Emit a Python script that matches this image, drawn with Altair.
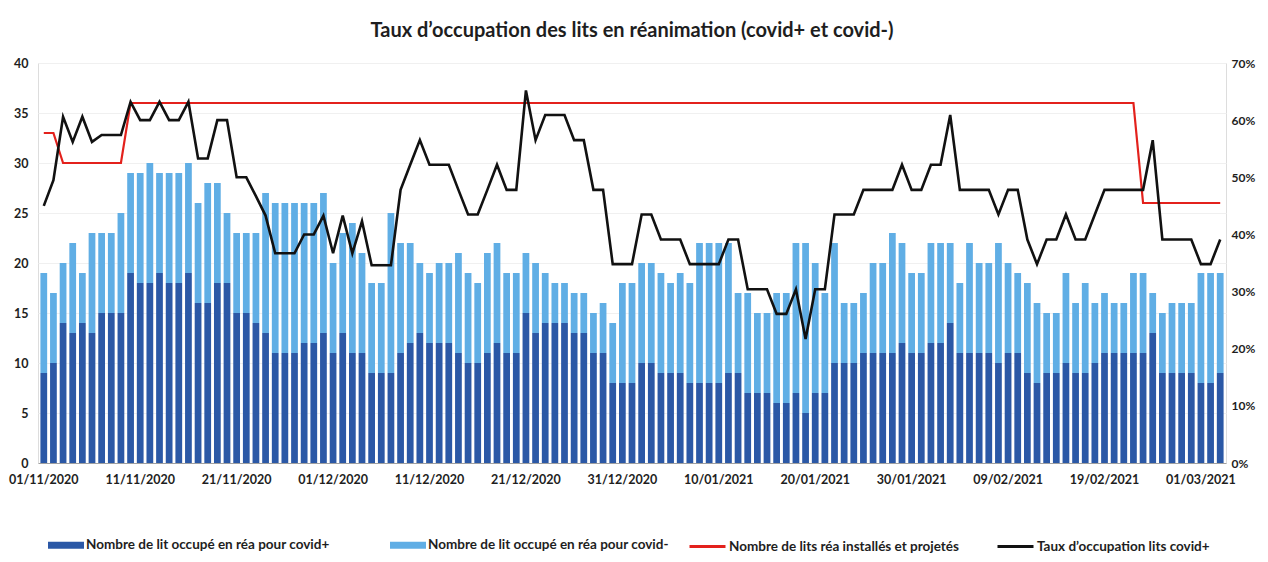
import altair as alt
import pandas as pd

# ---------------- data ----------------
start_date = "2020-11-01"
n_days = 123
dates = pd.date_range(start_date, periods=n_days, freq="D").strftime("%d/%m/%Y").tolist()

x_tick_labels = ["01/11/2020", "11/11/2020", "21/11/2020", "01/12/2020", "11/12/2020",
                 "21/12/2020", "31/12/2020", "10/01/2021", "20/01/2021", "30/01/2021",
                 "09/02/2021", "19/02/2021", "01/03/2021"]

covid_pos = [9, 10, 14, 13, 14, 13, 15, 15, 15, 19,
             18, 18, 19, 18, 18, 19, 16, 16, 18, 18,
             15, 15, 14, 13, 11, 11, 11, 12, 12, 13,
             11, 13, 11, 11, 9, 9, 9, 11, 12, 13,
             12, 12, 12, 11, 10, 10, 11, 12, 11, 11,
             15, 13, 14, 14, 14, 13, 13, 11, 11, 8,
             8, 8, 10, 10, 9, 9, 9, 8, 8, 8,
             8, 9, 9, 7, 7, 7, 6, 6, 7, 5,
             7, 7, 10, 10, 10, 11, 11, 11, 11, 12,
             11, 11, 12, 12, 14, 11, 11, 11, 11, 10,
             11, 11, 9, 8, 9, 9, 10, 9, 9, 10,
             11, 11, 11, 11, 11, 13, 9, 9, 9, 9,
             8, 8, 9]

covid_neg = [10, 7, 6, 9, 5, 10, 8, 8, 10, 10,
             11, 12, 10, 11, 11, 11, 10, 12, 10, 7,
             8, 8, 9, 14, 15, 15, 15, 14, 14, 14,
             9, 10, 13, 10, 9, 9, 16, 11, 10, 7,
             7, 8, 8, 10, 9, 8, 10, 10, 8, 8,
             6, 7, 5, 4, 4, 4, 4, 4, 5, 6,
             10, 10, 10, 10, 10, 9, 10, 10, 14, 14,
             14, 13, 8, 10, 8, 8, 11, 11, 15, 17,
             13, 10, 12, 6, 6, 6, 9, 9, 12, 10,
             8, 8, 10, 10, 8, 7, 11, 9, 9, 12,
             9, 8, 9, 8, 6, 6, 9, 7, 9, 6,
             6, 5, 5, 8, 8, 4, 6, 7, 7, 7,
             11, 11, 10]

beds = [33, 33] + [30] * 7 + [36] * 105 + [26] * 9

rate = [45.0, 49.5, 60.6, 56.2, 60.6, 56.2, 57.4, 57.4, 57.4, 63.2,
        60.0, 60.0, 63.2, 60.0, 60.0, 63.2, 53.3, 53.3, 60.0, 60.0,
        50.0, 50.0, 46.7, 43.3, 36.7, 36.7, 36.7, 40.0, 40.0, 43.3,
        36.7, 43.3, 36.7, 42.3, 34.6, 34.6, 34.6, 47.8, 52.2, 56.5,
        52.2, 52.2, 52.2, 47.8, 43.5, 43.5, 47.8, 52.2, 47.8, 47.8,
        65.2, 56.5, 60.9, 60.9, 60.9, 56.5, 56.5, 47.8, 47.8, 34.8,
        34.8, 34.8, 43.5, 43.5, 39.1, 39.1, 39.1, 34.8, 34.8, 34.8,
        34.8, 39.1, 39.1, 30.4, 30.4, 30.4, 26.1, 26.1, 30.4, 21.7,
        30.4, 30.4, 43.5, 43.5, 43.5, 47.8, 47.8, 47.8, 47.8, 52.2,
        47.8, 47.8, 52.2, 52.2, 60.9, 47.8, 47.8, 47.8, 47.8, 43.5,
        47.8, 47.8, 39.1, 34.8, 39.1, 39.1, 43.5, 39.1, 39.1, 43.5,
        47.8, 47.8, 47.8, 47.8, 47.8, 56.5, 39.1, 39.1, 39.1, 39.1,
        34.8, 34.8, 39.1]

s_pos = "Nombre de lit occupé en réa pour covid+"
s_neg = "Nombre de lit occupé en réa pour covid-"
s_beds = "Nombre de lits réa installés et projetés"
s_rate = "Taux d’occupation lits covid+"
title_text = "Taux d’occupation des lits en réanimation (covid+ et covid-)"

# ---------------- tables ----------------
bars_df = pd.concat([
    pd.DataFrame({"date": dates, "serie": s_pos, "value": covid_pos, "ord": 0}),
    pd.DataFrame({"date": dates, "serie": s_neg, "value": covid_neg, "ord": 1}),
])
beds_df = pd.DataFrame({"date": dates, "serie": s_beds, "beds": beds})
rate_df = pd.DataFrame({"date": dates, "serie": s_rate, "rate": rate})

FONT = "Lato"
TXT = "#1e1e1e"
LEG_FS = 13.5

x_enc = alt.X(
    "date:O", sort=dates, title=None,
    scale=alt.Scale(paddingInner=0.3, paddingOuter=0.25),
    axis=alt.Axis(values=x_tick_labels, labelAngle=0, ticks=False, domain=True,
                  domainColor="#a0a0a0", domainWidth=1, labelPadding=10,
                  labelFont=FONT, labelFontSize=12.5, labelFontWeight="bold",
                  labelColor=TXT, grid=False),
)

stroke_scale = alt.Scale(domain=[s_beds, s_rate], range=["#e3211c", "#111111"])
stroke_legend = alt.Legend(
    orient="none", legendX=650, legendY=464, direction="horizontal", title=None,
    symbolType="stroke", symbolSize=1296, symbolStrokeWidth=3, labelOffset=2,
    columnPadding=32, padding=0, labelFont=FONT, labelFontSize=LEG_FS,
    labelFontWeight="bold", labelColor=TXT, labelLimit=400,
)

bars = alt.Chart(bars_df).mark_bar().encode(
    x=x_enc,
    y=alt.Y("value:Q", stack="zero", title=None,
            scale=alt.Scale(domain=[0, 40], nice=False),
            axis=alt.Axis(values=list(range(0, 45, 5)), domain=False, ticks=False,
                          labelPadding=10, labelFont=FONT, labelFontSize=12.5,
                          labelFontWeight="bold", labelColor=TXT,
                          grid=True, gridColor="#f0f0f0", gridWidth=1)),
    fill=alt.Fill("serie:N",
                  scale=alt.Scale(domain=[s_pos, s_neg], range=["#2b58a6", "#60aee5"]),
                  legend=alt.Legend(
                      orient="none", legendX=18, legendY=472, direction="horizontal",
                      title=None, symbolType="M-1.8,-0.35H1.8V0.35H-1.8Z",
                      symbolSize=400, symbolStrokeWidth=0, labelOffset=10,
                      columnPadding=60, padding=0, labelFont=FONT, labelFontSize=LEG_FS,
                      labelFontWeight="bold", labelColor=TXT, labelLimit=400)),
    order=alt.Order("ord:Q"),
)

beds_line = alt.Chart(beds_df).mark_line(strokeWidth=2.2).encode(
    x=alt.X("date:O", sort=dates),
    y=alt.Y("beds:Q"),
    stroke=alt.Stroke("serie:N", scale=stroke_scale, legend=stroke_legend),
)

rate_line = alt.Chart(rate_df).mark_line(strokeWidth=2.6).encode(
    x=alt.X("date:O", sort=dates),
    y=alt.Y("rate:Q", title=None, scale=alt.Scale(domain=[0, 70], nice=False),
            axis=alt.Axis(orient="right", values=list(range(0, 80, 10)),
                          labelExpr="datum.value + '%'", domain=False, ticks=False,
                          grid=False, labelPadding=5, labelFont=FONT, labelFontSize=12,
                          labelFontWeight="bold", labelColor=TXT)),
    stroke=alt.Stroke("serie:N", scale=stroke_scale, legend=stroke_legend),
)

chart = alt.layer(
    alt.layer(bars, beds_line),
    rate_line,
).resolve_scale(
    y="independent"
).properties(
    width=1188, height=400,
    autosize="none",
    padding={"left": 30, "top": 55, "right": 34, "bottom": 91},
    title=alt.TitleParams(title_text, anchor="middle", offset=16, font=FONT,
                          fontSize=20, fontWeight="bold", color=TXT),
).configure_view(stroke=None).configure(background="white")

chart.save("out.html", embed_options={"renderer": "svg", "actions": False})
